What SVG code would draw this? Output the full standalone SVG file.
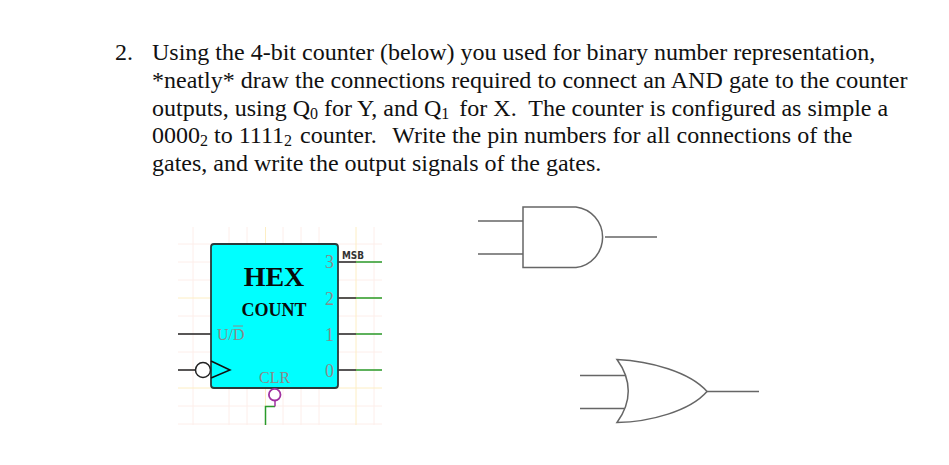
<svg xmlns="http://www.w3.org/2000/svg" width="949" height="465" viewBox="0 0 949 465">
<style>
.t{font-family:"Liberation Serif","Times New Roman",serif;font-size:24px;fill:#111;white-space:pre}
.s{font-size:16px}
.g{stroke:#fdeeea;stroke-width:1;fill:none}
.y{stroke:#fdeec4;stroke-width:1;fill:none}
.w{stroke:#222;stroke-width:1.500;fill:none}
.gr{stroke:#2a9a2a;stroke-width:1.500;fill:none}
.p{font-family:"Liberation Serif",serif;font-size:16px;fill:#8a8a8a}
.d{font-size:18px;text-anchor:middle}
.gate{stroke:#666;stroke-width:1.500;fill:#fff}
.l{stroke:#666;stroke-width:1.500;fill:none}
</style>
<rect width="949" height="465" fill="#fff"/>
<g id="question">
<text class="t" x="115" y="60">2.</text>
<text class="t" x="152" y="60">Using the 4-bit counter (below) you used for binary number representation,</text>
<text class="t" x="152" y="88" word-spacing="0.2">*neatly* draw the connections required to connect an AND gate to the counter</text>
<text class="t" x="152" y="116">outputs, using Q<tspan class="s" dy="3">0</tspan><tspan dy="-3"> for Y, and Q</tspan><tspan class="s" dy="3">1</tspan><tspan dy="-3" dx="4"> for X.  The counter is configured as simple a</tspan></text>
<text class="t" x="152" y="143">0000<tspan class="s" dy="3">2</tspan><tspan dy="-3"> to 1111</tspan><tspan class="s" dy="3">2</tspan><tspan dy="-3" dx="2"> counter.  </tspan><tspan dx="4">Write the pin numbers for all connections of the</tspan></text>
<text class="t" x="152" y="171">gates, and write the output signals of the gates.</text>
</g>
<g id="grid">
<path class="g" d="M193 227V425M229 227V425M247 227V425M283 227V425M301 227V425M319 227V425M374 227V425M178 262H382M178 280H382M178 316H382M178 334H382M178 352H382M178 370H382M178 406H382M178 424H382M178 244H382"/>
<path class="y" d="M265.500 227V425M356 227V425M178 298H382M178 388H382"/>
</g>
<g id="connectors">
<path class="w" d="M178 334H211M178 370H196M338 262H356M338 298H356M338 334H356M338 370H356"/>
<path class="gr" d="M356 262H382M356 298H382M356 334H382M356 370H382M275 406.500H265.500V425"/>
<path d="M275 400.500V406.500" stroke="#a030a0" stroke-width="1.500" fill="none"/>
</g>
<g id="counter">
<rect x="211" y="244" width="127" height="144" rx="3" fill="#00ffff" stroke="#2a3a3a" stroke-width="1.800"/>
<text x="274" y="286" text-anchor="middle" font-family="Liberation Serif,serif" font-weight="700" font-size="28" fill="#0a0a0a">HEX</text>
<text x="274" y="316" text-anchor="middle" font-family="Liberation Serif,serif" font-weight="700" font-size="18" fill="#0a0a0a">COUNT</text>
<text class="p" x="217" y="340">U/D</text>
<path d="M233 326H243" stroke="#8a8a8a" stroke-width="1"/>
<text class="p" x="259" y="383">CLR</text>
<text class="p d" x="329.500" y="268">3</text>
<text class="p d" x="329.500" y="304.500">2</text>
<text class="p d" x="329.500" y="341">1</text>
<text class="p d" x="329.500" y="377">0</text>
<path d="M211 361L230 370L211 378" fill="none" stroke="#111" stroke-width="1.500"/>
<circle cx="203" cy="370" r="7.500" fill="#fff" stroke="#222" stroke-width="1.500"/>
<circle cx="274.700" cy="394.700" r="5.800" fill="#fff" stroke="#a030a0" stroke-width="1.800"/>
<text x="342" y="258.500" font-family="DejaVu Sans,sans-serif" font-size="10" font-weight="700" textLength="22" lengthAdjust="spacingAndGlyphs" fill="#333">MSB</text>
</g>
<g id="and-gate">
<path class="l" d="M478 221H523M478 254H523M605 237H657"/>
<path class="gate" d="M523 207H576A30.500 30.500 0 0 1 576 267.500H523Z"/>
</g>
<g id="or-gate">
<path class="l" d="M580 375.500H625M580 408.500H625M707 391.500H759"/>
<path class="gate" d="M617 359.500C650 361 690 372 707 391.500C690 411 650 422 617 422.500C632 402 632 380 617 359.500Z"/>
</g>
</svg>
